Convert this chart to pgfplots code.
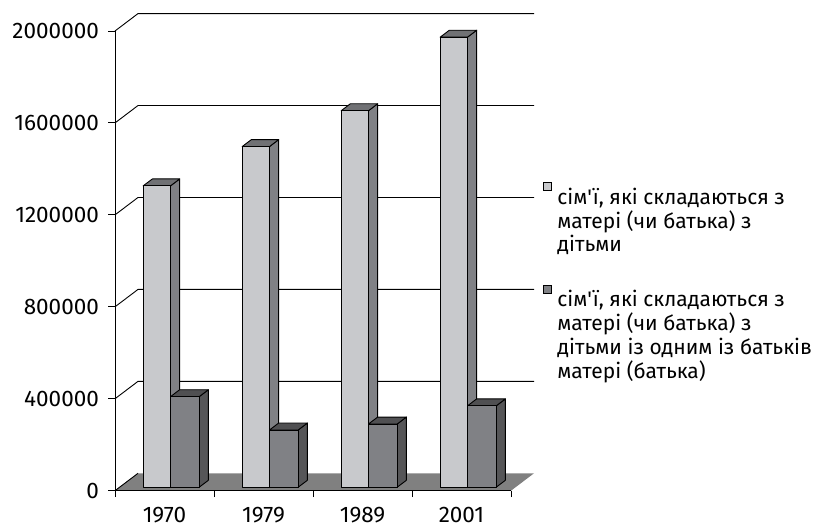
\documentclass[border=0pt]{standalone}
\usepackage{fontspec}
\setmainfont{Fira Sans}[Ligatures=TeXOff]
\usepackage{pgfplots}
\usepackage{pgfplotstable}
\pgfplotsset{compat=1.18}
\definecolor{lightfront}{RGB}{200,201,204}
\definecolor{lightside}{RGB}{128,129,133}
\definecolor{lighttop}{RGB}{112,113,116}
\definecolor{darkfront}{RGB}{128,129,133}
\definecolor{darkside}{RGB}{86,86,88}
\definecolor{darktop}{RGB}{80,80,82}
\definecolor{floorgray}{RGB}{128,128,128}

\pgfplotstableread{
idx a b
0 1311000 394000
1 1482000 249000
2 1638000 275000
3 1958000 354000
}\data

\def\dxu{0.2323}
\def\dyu{75700}
\def\fa{0.2}
\def\fb{0.6}

\newcommand\drawbar[6]{%
  \pgfkeys{/pgf/fpu=true,/pgf/fpu/output format=fixed}%
  \pgfmathsetmacro\xa{#1+\fa*\dxu}%
  \pgfmathsetmacro\xb{#2+\fa*\dxu}%
  \pgfmathsetmacro\xc{#2+\fb*\dxu}%
  \pgfmathsetmacro\xd{#1+\fb*\dxu}%
  \pgfmathsetmacro\ya{\fa*\dyu}%
  \pgfmathsetmacro\yb{\fb*\dyu}%
  \pgfmathsetmacro\yc{#3+\fa*\dyu}%
  \pgfmathsetmacro\yd{#3+\fb*\dyu}%
  \pgfkeys{/pgf/fpu=false}%
  \edef\temp{%
    \noexpand\addplot[forget plot, draw=black, line width=0.9pt, line join=round, fill=#5] coordinates {(\xb,\ya) (\xc,\yb) (\xc,\yd) (\xb,\yc)} -- cycle;
    \noexpand\addplot[forget plot, draw=black, line width=0.9pt, line join=round, fill=#6] coordinates {(\xa,\yc) (\xb,\yc) (\xc,\yd) (\xd,\yd)} -- cycle;
    \noexpand\addplot[forget plot, draw=black, line width=0.9pt, line join=round, fill=#4] coordinates {(\xa,\ya) (\xb,\ya) (\xb,\yc) (\xa,\yc)} -- cycle;
  }\temp
}

\begin{document}
\begin{tikzpicture}
\path (-115pt,-37.3pt) rectangle (702pt,490.7pt);
\begin{axis}[
  scale only axis,
  width=419pt, height=477.1pt,
  xmin=-0.5, xmax=3.7323,
  ymin=0, ymax=2075700,
  enlargelimits=false,
  clip=false,
  axis x line*=bottom, axis y line*=left,
  axis line style={draw=none},
  tick align=outside,
  major tick length=6.5pt,
  xtick={-0.5,0.5,1.5,2.5,3.5},
  x tick label as interval,
  xticklabels={1970,1979,1989,2001},
  ytick={0,400000,800000,1200000,1600000,2000000},
  yticklabels={0,400000,800000,1200000,1600000,2000000},
  scaled y ticks=false,
  minor tick num=0,
  tick style={black, line width=0.9pt},
  ticklabel style={font=\fontsize{22.5}{25}\selectfont},
  yticklabel style={xshift=-6pt},
  xticklabel style={yshift=-6pt},
  legend style={draw=none, fill=none, at={(1,0.647)}, anchor=north west,
    xshift=8.5pt,
    font=\fontsize{21}{23}\selectfont, row sep=77pt, inner sep=0pt,
    column sep=0pt, /tikz/every odd column/.append style={column sep=4pt}},
  legend cell align=left,
]
% floor
\addplot[forget plot, draw=none, fill=floorgray] coordinates {(-0.5,0) (3.5,0) (3.7323,75700) (-0.2677,75700)} -- cycle;
% grid lines (side wall and back wall)
\addplot[forget plot, black, line width=0.9pt] coordinates {(-0.5,0) (-0.2677,75700)};
\pgfplotsforeachungrouped \v in {400000,800000,1200000,1600000,2000000}{%
  \pgfkeys{/pgf/fpu=true,/pgf/fpu/output format=fixed}%
  \pgfmathsetmacro\vb{\v+\dyu}%
  \pgfkeys{/pgf/fpu=false}%
  \edef\temp{\noexpand\addplot[forget plot, black, line width=0.9pt] coordinates {(-0.5,\v) (-0.2677,\vb) (3.7323,\vb)};}\temp
}
% axis lines
\addplot[forget plot, black, line width=0.9pt] coordinates {(-0.5,2000000) (-0.5,0) (3.5,0)};
% bars
\pgfplotsforeachungrouped \i in {0,1,2,3}{%
  \pgfplotstablegetelem{\i}{a}\of\data \let\va\pgfplotsretval
  \pgfplotstablegetelem{\i}{b}\of\data \let\vbb\pgfplotsretval
  \drawbar{\i-0.262}{\i+0.014}{\va}{lightfront}{lightside}{lighttop}%
  \drawbar{\i+0.014}{\i+0.304}{\vbb}{darkfront}{darkside}{darktop}%
}
\addlegendimage{legend image code/.code={\draw[draw=black,fill=lightfront,line width=0.7pt] (0pt,6pt) rectangle (8pt,14pt);}}
\addlegendentry{\begin{tabular}[t]{@{}l@{}}сім\symbol{39}ї, які складаються з\\матері (чи батька) з\\дітьми\end{tabular}}
\addlegendimage{legend image code/.code={\draw[draw=black,fill=darkfront,line width=0.7pt] (0pt,6pt) rectangle (8pt,14pt);}}
\addlegendentry{\begin{tabular}[t]{@{}l@{}}сім\symbol{39}ї, які складаються з\\матері (чи батька) з\\дітьми із одним із батьків\\матері (батька)\end{tabular}}
\end{axis}
\end{tikzpicture}
\end{document}
